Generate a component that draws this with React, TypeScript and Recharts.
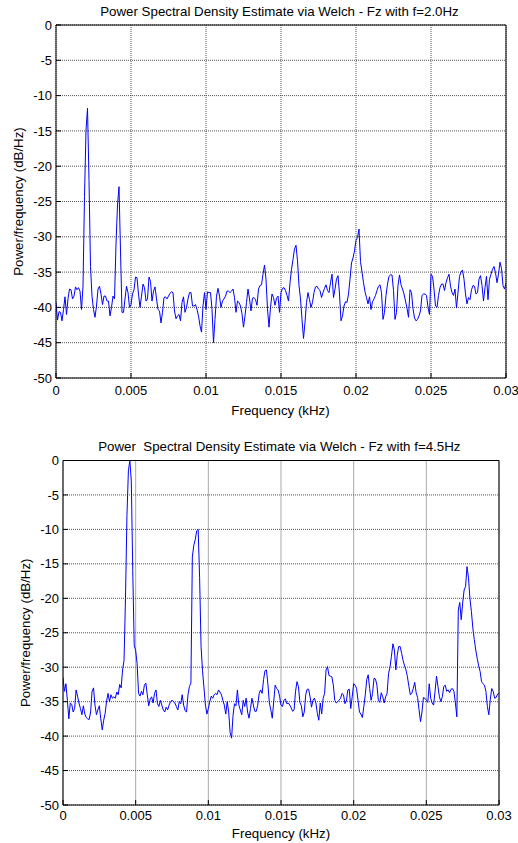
import React from 'react';
import { LineChart, Line, XAxis, YAxis, CartesianGrid } from 'recharts';

const FREQ_STEP_KHZ = 0.0001;
const xTicks = [0, 0.005, 0.01, 0.015, 0.02, 0.025, 0.03];
const yTicks = [-50, -45, -40, -35, -30, -25, -20, -15, -10, -5, 0];
const titleTop = 'Power Spectral Density Estimate via Welch - Fz with f=2.0Hz';
const titleBottom = 'Power  Spectral Density Estimate via Welch - Fz with f=4.5Hz';
const xLabel = 'Frequency (kHz)';
const yLabel = 'Power/frequency (dB/Hz)';

// PSD (dB/Hz), f = 2.0 Hz, frequency grid 0..0.03 kHz step 0.0001 kHz
const psdFz2Hz = [
  -39.3, -41.8, -40.6, -40.7, -41.9, -40.3, -38.5, -41.0, -38.8, -37.4,
  -37.5, -38.8, -38.4, -37.1, -37.5, -37.2, -37.7, -40.3, -37.0, -24.3,
  -14.9, -11.8, -22.0, -34.2, -38.4, -40.3, -41.4, -39.8, -37.4, -37.0,
  -38.1, -39.6, -38.4, -38.4, -39.1, -39.1, -41.2, -40.0, -38.4, -38.8,
  -31.0, -25.5, -22.9, -32.0, -40.7, -40.7, -38.8, -37.0, -37.9, -40.0,
  -39.6, -38.1, -37.5, -35.7, -35.8, -38.1, -40.0, -38.4, -36.7, -37.2,
  -39.1, -38.8, -35.7, -36.3, -39.1, -37.7, -37.1, -38.8, -40.3, -40.5,
  -42.2, -40.7, -38.6, -38.5, -38.8, -38.4, -38.0, -37.8, -37.9, -40.5,
  -41.6, -41.2, -41.0, -41.9, -39.3, -38.5, -40.7, -40.0, -38.8, -37.9,
  -37.9, -39.8, -39.8, -39.6, -40.3, -41.2, -42.6, -43.5, -39.8, -37.9,
  -40.3, -37.8, -37.9, -37.9, -40.3, -45.0, -41.7, -38.4, -37.3, -38.4,
  -40.0, -39.1, -38.8, -38.4, -37.7, -37.7, -37.9, -37.7, -37.4, -38.6,
  -40.7, -39.1, -39.3, -39.8, -40.9, -42.8, -41.2, -39.3, -37.4, -38.8,
  -40.5, -38.7, -38.6, -38.9, -39.7, -37.4, -36.9, -36.8, -35.3, -34.0,
  -36.0, -40.2, -42.8, -40.0, -38.1, -38.6, -39.7, -38.7, -38.4, -40.7,
  -37.9, -37.3, -37.2, -37.6, -38.3, -39.1, -36.5, -34.6, -33.2, -31.7,
  -31.2, -33.4, -36.9, -38.8, -41.7, -44.4, -42.1, -39.3, -37.9, -38.9,
  -40.0, -39.3, -37.9, -37.1, -37.0, -37.4, -37.6, -38.6, -37.9, -37.3,
  -36.8, -37.6, -37.9, -36.5, -35.3, -38.6, -37.4, -36.0, -35.5, -38.1,
  -41.9, -41.2, -39.8, -39.2, -39.3, -38.1, -36.0, -33.7, -33.0, -32.0,
  -30.5, -30.1, -28.9, -33.5, -35.0, -36.5, -37.8, -38.6, -39.5, -38.5,
  -40.3, -39.2, -38.8, -38.3, -37.6, -37.0, -36.8, -37.9, -41.7, -40.7,
  -38.3, -36.7, -35.6, -35.4, -35.4, -37.6, -41.7, -40.7, -36.9, -35.4,
  -36.8, -37.4, -38.1, -39.1, -40.1, -41.4, -37.5, -37.9, -40.2, -41.5,
  -41.9, -41.7, -41.2, -40.5, -38.3, -38.1, -38.1, -38.3, -40.0, -41.0,
  -35.3, -35.6, -37.4, -39.8, -40.0, -38.3, -37.2, -36.7, -36.7, -37.6,
  -36.5, -35.8, -35.3, -37.0, -37.9, -38.3, -37.4, -40.1, -37.9, -35.6,
  -35.0, -34.7, -36.0, -38.1, -39.5, -38.6, -38.9, -37.5, -36.9, -37.0,
  -38.1, -37.9, -36.0, -35.5, -36.9, -39.1, -37.2, -35.6, -38.9, -36.0,
  -35.3, -34.6, -34.2, -35.1, -36.5, -35.3, -33.6, -34.5, -36.9, -37.4,
  -36.6,
];

// PSD (dB/Hz), f = 4.5 Hz, frequency grid 0..0.03 kHz step 0.0001 kHz
const psdFz45Hz = [
  -31.5, -33.5, -32.4, -34.8, -37.5, -35.2, -35.4, -36.5, -36.0, -33.3,
  -34.2, -35.2, -36.0, -36.9, -35.6, -36.8, -37.3, -37.5, -37.6, -36.5,
  -33.5, -33.0, -35.5, -36.9, -36.2, -35.6, -37.5, -39.1, -37.7, -36.7,
  -34.9, -33.8, -35.0, -34.0, -34.5, -34.3, -34.5, -33.6, -34.0, -32.5,
  -33.0, -30.4, -29.0, -20.0, -8.0, -1.5, 0.0, -3.0, -16.0, -26.8,
  -27.6, -29.5, -33.8, -34.2, -33.5, -34.0, -32.6, -32.3, -34.0, -35.6,
  -34.6, -34.3, -35.2, -33.8, -33.3, -35.3, -35.7, -34.8, -35.5, -36.2,
  -36.5, -35.8, -36.2, -35.5, -35.0, -34.8, -35.0, -35.2, -35.7, -36.2,
  -35.0, -35.3, -34.0, -35.5, -36.3, -36.5, -34.0, -32.8, -32.3, -14.0,
  -12.3, -11.5, -10.2, -10.0, -17.0, -27.0, -30.5, -33.0, -35.5, -36.8,
  -36.0, -35.0, -34.2, -34.5, -34.0, -33.8, -34.0, -33.3, -33.6, -34.0,
  -34.8, -35.5, -36.8, -35.0, -36.5, -39.5, -40.3, -37.0, -35.3, -35.6,
  -33.3, -35.5, -36.2, -36.9, -34.8, -35.7, -34.5, -36.5, -37.4, -36.0,
  -34.5, -35.5, -36.4, -36.4, -35.5, -33.8, -33.3, -33.8, -31.8, -30.5,
  -30.4, -32.5, -35.2, -36.2, -37.4, -35.0, -32.6, -33.1, -33.3, -34.2,
  -35.5, -35.7, -34.8, -34.6, -35.3, -35.2, -35.5, -35.9, -36.4, -36.2,
  -33.5, -32.1, -32.8, -35.1, -35.6, -37.2, -36.5, -34.0, -33.2, -33.2,
  -34.3, -35.8, -34.8, -34.5, -35.2, -36.7, -37.7, -35.2, -36.8, -34.5,
  -33.8, -30.4, -29.9, -31.2, -31.3, -31.4, -32.6, -34.8, -35.2, -35.0,
  -34.8, -34.5, -33.8, -34.0, -35.3, -34.9, -33.3, -33.2, -36.0, -34.3,
  -32.4, -32.6, -33.1, -34.8, -36.5, -36.8, -37.3, -35.7, -34.0, -31.8,
  -31.1, -33.1, -34.8, -33.8, -31.6, -31.7, -32.6, -34.8, -35.1, -33.7,
  -34.3, -35.2, -34.3, -33.8, -30.9, -30.0, -28.4, -26.6, -27.5, -30.4,
  -28.2, -27.0, -27.0, -28.0, -29.0, -29.8, -30.4, -31.4, -32.8, -34.0,
  -33.8, -33.1, -32.2, -33.7, -34.4, -36.2, -37.9, -36.5, -34.4, -34.5,
  -34.8, -35.1, -32.4, -34.5, -35.2, -35.5, -33.5, -31.3, -32.8, -34.3,
  -35.0, -34.3, -32.8, -32.6, -33.5, -33.3, -33.7, -33.2, -33.1, -33.5,
  -35.2, -37.2, -21.7, -20.6, -23.1, -20.7, -18.8, -18.3, -15.4, -17.0,
  -20.0, -21.9, -24.3, -26.0, -27.5, -28.7, -29.8, -30.6, -32.1, -32.4,
  -32.6, -33.5, -35.7, -36.9, -34.7, -33.1, -33.5, -34.5, -34.4, -33.9,
  -33.8,
];

const FONT = '"Liberation Sans", Arial, Helvetica, sans-serif';
const TICK_STYLE = { fill: '#000', fontSize: 13, fontFamily: FONT };

type ChartProps = {
  values: number[];
  width: number;
  height: number;
  margin: { top: number; right: number; bottom: number; left: number };
  yAxisWidth: number;
  xAxisHeight: number;
  xTickMargin: number;
};

function PsdChart({ values, width, height, margin, yAxisWidth, xAxisHeight, xTickMargin }: ChartProps) {
  const data = values.map((v, i) => ({ f: Math.round(i * FREQ_STEP_KHZ * 1e5) / 1e5, psd: v }));
  return (
    <LineChart width={width} height={height} data={data} margin={margin}>
      <CartesianGrid stroke="#555" strokeDasharray="1 1" />
      <XAxis
        dataKey="f"
        type="number"
        domain={[0, 0.03]}
        ticks={xTicks}
        interval={0}
        allowDataOverflow
        tickFormatter={(v: number) => String(v)}
        tickSize={-5}
        tickMargin={xTickMargin}
        height={xAxisHeight}
        stroke="#000"
        tick={TICK_STYLE}
      />
      <XAxis
        xAxisId="top"
        orientation="top"
        mirror
        dataKey="f"
        type="number"
        domain={[0, 0.03]}
        ticks={xTicks}
        interval={0}
        allowDataOverflow
        tick={false}
        tickSize={5}
        height={1}
        stroke="#000"
      />
      <YAxis
        type="number"
        domain={[-50, 0]}
        ticks={yTicks}
        interval={0}
        allowDataOverflow
        tickSize={-5}
        tickMargin={9}
        width={yAxisWidth}
        stroke="#000"
        tick={TICK_STYLE}
      />
      <YAxis
        yAxisId="right"
        orientation="right"
        mirror
        type="number"
        domain={[-50, 0]}
        ticks={yTicks}
        interval={0}
        allowDataOverflow
        tick={false}
        tickSize={5}
        width={1}
        stroke="#000"
      />
      <Line
        type="linear"
        dataKey="psd"
        stroke="#0000ff"
        strokeWidth={1}
        dot={false}
        activeDot={false}
        isAnimationActive={false}
      />
    </LineChart>
  );
}

export default function App() {
  const textStyle = { fontFamily: FONT, fontSize: 13.3, fill: '#000' } as const;
  return (
    <div style={{ position: 'absolute', left: 0, top: 0, width: 518, height: 843, background: '#fff', overflow: 'hidden' }}>
      <div style={{ position: 'absolute', left: 0, top: 0 }}>
        <PsdChart
          values={psdFz2Hz}
          width={518}
          height={430}
          margin={{ top: 25, right: 12, bottom: 22, left: 6 }}
          yAxisWidth={50}
          xAxisHeight={30}
          xTickMargin={13}
        />
      </div>
      <div style={{ position: 'absolute', left: 0, top: 430 }}>
        <PsdChart
          values={psdFz45Hz}
          width={518}
          height={413}
          margin={{ top: 30.5, right: 19, bottom: 8, left: 13 }}
          yAxisWidth={50}
          xAxisHeight={30}
          xTickMargin={11}
        />
      </div>
      <svg
        width={518}
        height={843}
        style={{ position: 'absolute', left: 0, top: 0, pointerEvents: 'none' }}
      >
        <text x={279.5} y={16} textAnchor="middle" style={{ ...textStyle, whiteSpace: 'pre' }}>{titleTop}</text>
        <text x={280.5} y={414.5} textAnchor="middle" style={textStyle}>{xLabel}</text>
        <text transform="translate(23,201.5) rotate(-90)" textAnchor="middle" style={textStyle}>{yLabel}</text>
        <text x={279.3} y={451} textAnchor="middle" style={{ ...textStyle, whiteSpace: 'pre' }}>{titleBottom}</text>
        <text x={281} y={837.5} textAnchor="middle" style={textStyle}>{xLabel}</text>
        <text transform="translate(29.5,632.75) rotate(-90)" textAnchor="middle" style={textStyle}>{yLabel}</text>
      </svg>
    </div>
  );
}
